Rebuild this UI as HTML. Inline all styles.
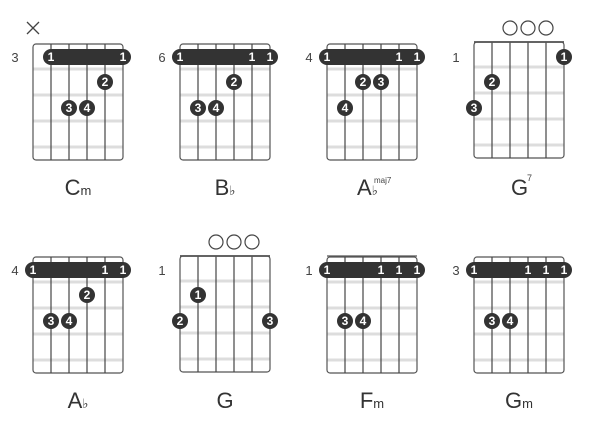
<!DOCTYPE html>
<html><head><meta charset="utf-8"><style>
html,body{margin:0;padding:0;background:#fff;}
svg{display:block;}
text{font-family:"Liberation Sans",sans-serif;}
.fr{fill:none;stroke:#555;stroke-width:1.2;}
.st{stroke:#444;stroke-width:1.2;}
.fl{stroke:#ddd;stroke-width:3;}
.d{fill:#333;}
.dt{fill:#fff;font-size:12px;font-weight:bold;text-anchor:middle;}
.bt{fill:#fff;font-size:12px;font-weight:bold;text-anchor:middle;}
.fn{fill:#444;font-size:13px;text-anchor:middle;}
.lb{fill:#333;font-size:22px;}
.sm{fill:#333;font-size:13px;}
.oc{fill:none;stroke:#444;stroke-width:1.2;}
</style></head><body>
<svg width="600" height="430" viewBox="0 0 600 430" xmlns="http://www.w3.org/2000/svg">
<defs>
<g id="grid">
<line class="fl" x1="0" y1="25" x2="90" y2="25"/>
<line class="fl" x1="0" y1="51" x2="90" y2="51"/>
<line class="fl" x1="0" y1="77" x2="90" y2="77"/>
<line class="fl" x1="0" y1="103" x2="90" y2="103"/>
<rect class="fr" x="0" y="0" width="90" height="116" rx="3"/>
<line class="st" x1="18" y1="0" x2="18" y2="116"/>
<line class="st" x1="36" y1="0" x2="36" y2="116"/>
<line class="st" x1="54" y1="0" x2="54" y2="116"/>
<line class="st" x1="72" y1="0" x2="72" y2="116"/>
</g>
</defs>

<!-- Cm -->
<g transform="translate(33,44)">
<use href="#grid"/>
<text class="fn" x="-18" y="18">3</text>
<path d="M-6,-22 L6,-10 M6,-22 L-6,-10" stroke="#444" stroke-width="1.3"/>
<rect class="d" x="10" y="5" width="88" height="16" rx="8"/>
<text class="bt" x="18" y="17">1</text><text class="bt" x="90" y="17">1</text>
<circle class="d" cx="72" cy="38" r="8"/><text class="dt" x="72" y="42">2</text>
<circle class="d" cx="36" cy="64" r="8"/><text class="dt" x="36" y="68">3</text>
<circle class="d" cx="54" cy="64" r="8"/><text class="dt" x="54" y="68">4</text>
<text x="45" y="151" text-anchor="middle"><tspan class="lb">C</tspan><tspan class="sm">m</tspan></text>
</g>

<!-- Bb -->
<g transform="translate(180,44)">
<use href="#grid"/>
<text class="fn" x="-18" y="18">6</text>
<rect class="d" x="-8" y="5" width="106" height="16" rx="8"/>
<text class="bt" x="0" y="17">1</text><text class="bt" x="72" y="17">1</text><text class="bt" x="90" y="17">1</text>
<circle class="d" cx="54" cy="38" r="8"/><text class="dt" x="54" y="42">2</text>
<circle class="d" cx="18" cy="64" r="8"/><text class="dt" x="18" y="68">3</text>
<circle class="d" cx="36" cy="64" r="8"/><text class="dt" x="36" y="68">4</text>
<text x="45" y="151" text-anchor="middle"><tspan class="lb">B</tspan><tspan class="sm">♭</tspan></text>
</g>

<!-- Abmaj7 -->
<g transform="translate(327,44)">
<use href="#grid"/>
<text class="fn" x="-18" y="18">4</text>
<rect class="d" x="-8" y="5" width="106" height="16" rx="8"/>
<text class="bt" x="0" y="17">1</text><text class="bt" x="72" y="17">1</text><text class="bt" x="90" y="17">1</text>
<circle class="d" cx="36" cy="38" r="8"/><text class="dt" x="36" y="42">2</text>
<circle class="d" cx="54" cy="38" r="8"/><text class="dt" x="54" y="42">3</text>
<circle class="d" cx="18" cy="64" r="8"/><text class="dt" x="18" y="68">4</text>
<text x="30" y="151"><tspan class="lb">A</tspan><tspan class="sm">♭</tspan></text>
<text x="47" y="139" style="font-size:8px;fill:#444">maj7</text>
</g>

<!-- G7 -->
<g transform="translate(474,42)">
<use href="#grid"/>
<line x1="0" y1="0" x2="90" y2="0" stroke="#555" stroke-width="1.8"/>
<text class="fn" x="-18" y="20">1</text>
<circle class="oc" cx="36" cy="-14" r="7"/><circle class="oc" cx="54" cy="-14" r="7"/><circle class="oc" cx="72" cy="-14" r="7"/>
<circle class="d" cx="90" cy="15" r="8"/><text class="dt" x="90" y="19">1</text>
<circle class="d" cx="18" cy="40" r="8"/><text class="dt" x="18" y="44">2</text>
<circle class="d" cx="0" cy="66" r="8"/><text class="dt" x="0" y="70">3</text>
<text x="37" y="153"><tspan class="lb">G</tspan></text>
<text x="53" y="139" style="font-size:9px;fill:#444">7</text>
</g>

<!-- Ab -->
<g transform="translate(33,257)">
<use href="#grid"/>
<text class="fn" x="-18" y="18">4</text>
<rect class="d" x="-8" y="5" width="106" height="16" rx="8"/>
<text class="bt" x="0" y="17">1</text><text class="bt" x="72" y="17">1</text><text class="bt" x="90" y="17">1</text>
<circle class="d" cx="54" cy="38" r="8"/><text class="dt" x="54" y="42">2</text>
<circle class="d" cx="18" cy="64" r="8"/><text class="dt" x="18" y="68">3</text>
<circle class="d" cx="36" cy="64" r="8"/><text class="dt" x="36" y="68">4</text>
<text x="45" y="151" text-anchor="middle"><tspan class="lb">A</tspan><tspan class="sm">♭</tspan></text>
</g>

<!-- G -->
<g transform="translate(180,256)">
<use href="#grid"/>
<line x1="0" y1="0" x2="90" y2="0" stroke="#555" stroke-width="1.8"/>
<text class="fn" x="-18" y="19">1</text>
<circle class="oc" cx="36" cy="-14" r="7"/><circle class="oc" cx="54" cy="-14" r="7"/><circle class="oc" cx="72" cy="-14" r="7"/>
<circle class="d" cx="18" cy="39" r="8"/><text class="dt" x="18" y="43">1</text>
<circle class="d" cx="0" cy="65" r="8"/><text class="dt" x="0" y="69">2</text>
<circle class="d" cx="90" cy="65" r="8"/><text class="dt" x="90" y="69">3</text>
<text x="45" y="152" text-anchor="middle"><tspan class="lb">G</tspan></text>
</g>

<!-- Fm -->
<g transform="translate(327,257)">
<use href="#grid"/>
<line x1="0" y1="-1" x2="90" y2="-1" stroke="#555" stroke-width="1.2"/>
<text class="fn" x="-18" y="18">1</text>
<rect class="d" x="-8" y="5" width="106" height="16" rx="8"/>
<text class="bt" x="0" y="17">1</text><text class="bt" x="54" y="17">1</text><text class="bt" x="72" y="17">1</text><text class="bt" x="90" y="17">1</text>
<circle class="d" cx="18" cy="64" r="8"/><text class="dt" x="18" y="68">3</text>
<circle class="d" cx="36" cy="64" r="8"/><text class="dt" x="36" y="68">4</text>
<text x="45" y="151" text-anchor="middle"><tspan class="lb">F</tspan><tspan class="sm">m</tspan></text>
</g>

<!-- Gm -->
<g transform="translate(474,257)">
<use href="#grid"/>
<text class="fn" x="-18" y="18">3</text>
<rect class="d" x="-8" y="5" width="106" height="16" rx="8"/>
<text class="bt" x="0" y="17">1</text><text class="bt" x="54" y="17">1</text><text class="bt" x="72" y="17">1</text><text class="bt" x="90" y="17">1</text>
<circle class="d" cx="18" cy="64" r="8"/><text class="dt" x="18" y="68">3</text>
<circle class="d" cx="36" cy="64" r="8"/><text class="dt" x="36" y="68">4</text>
<text x="45" y="151" text-anchor="middle"><tspan class="lb">G</tspan><tspan class="sm">m</tspan></text>
</g>
</svg>
</body></html>
